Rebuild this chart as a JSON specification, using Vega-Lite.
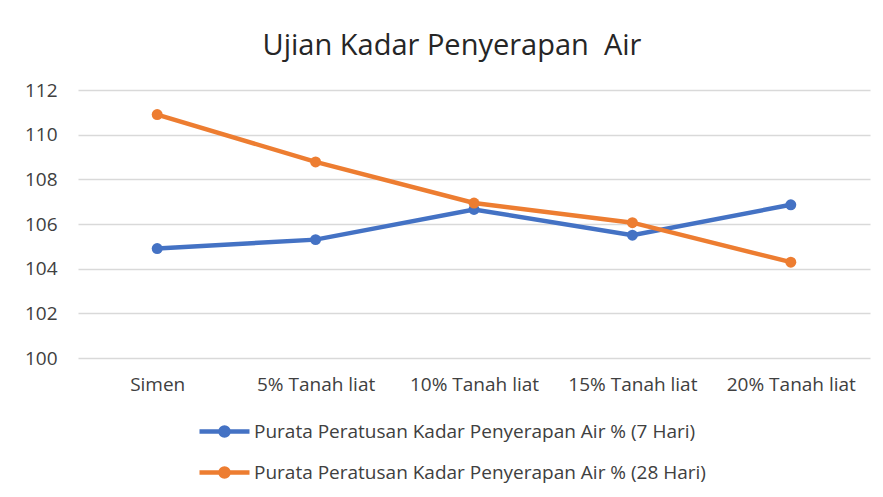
{
  "$schema": "https://vega.github.io/schema/vega-lite/v6.json",
  "width": 792,
  "height": 268,
  "autosize": {"type": "none"},
  "padding": {"left": 78, "top": 90, "right": 13, "bottom": 139},
  "background": "white",
  "config": {"view": {"stroke": null}, "font": "Open Sans"},
  "title": {
    "text": "Ujian Kadar Penyerapan\u00a0 Air",
    "fontSize": 29,
    "fontWeight": "normal",
    "color": "#262626",
    "anchor": "middle",
    "dx": -22,
    "offset": 20
  },
  "data": {
    "values": [
      {"cat": "Simen", "series": "Purata Peratusan Kadar Penyerapan Air % (7 Hari)", "v": 104.9},
      {"cat": "5% Tanah liat", "series": "Purata Peratusan Kadar Penyerapan Air % (7 Hari)", "v": 105.3},
      {"cat": "10% Tanah liat", "series": "Purata Peratusan Kadar Penyerapan Air % (7 Hari)", "v": 106.65},
      {"cat": "15% Tanah liat", "series": "Purata Peratusan Kadar Penyerapan Air % (7 Hari)", "v": 105.5},
      {"cat": "20% Tanah liat", "series": "Purata Peratusan Kadar Penyerapan Air % (7 Hari)", "v": 106.86},
      {"cat": "Simen", "series": "Purata Peratusan Kadar Penyerapan Air % (28 Hari)", "v": 110.9},
      {"cat": "5% Tanah liat", "series": "Purata Peratusan Kadar Penyerapan Air % (28 Hari)", "v": 108.78},
      {"cat": "10% Tanah liat", "series": "Purata Peratusan Kadar Penyerapan Air % (28 Hari)", "v": 106.94},
      {"cat": "15% Tanah liat", "series": "Purata Peratusan Kadar Penyerapan Air % (28 Hari)", "v": 106.06},
      {"cat": "20% Tanah liat", "series": "Purata Peratusan Kadar Penyerapan Air % (28 Hari)", "v": 104.29}
    ]
  },
  "encoding": {
    "x": {
      "field": "cat",
      "type": "ordinal",
      "sort": null,
      "scale": {"type": "point", "padding": 0.5},
      "axis": {
        "title": null,
        "labelAngle": 0,
        "domain": false,
        "ticks": false,
        "grid": false,
        "labelFontSize": 19,
        "labelColor": "#404040",
        "labelPadding": 17
      }
    },
    "y": {
      "field": "v",
      "type": "quantitative",
      "scale": {"domain": [100, 112], "nice": false, "zero": false},
      "axis": {
        "title": null,
        "values": [100, 102, 104, 106, 108, 110, 112],
        "domain": false,
        "ticks": false,
        "gridColor": "#d9d9d9",
        "gridWidth": 1.3,
        "labelFontSize": 19,
        "labelColor": "#404040",
        "labelPadding": 21
      }
    },
    "color": {
      "field": "series",
      "type": "nominal",
      "sort": null,
      "scale": {"range": ["#4472C4", "#ED7D31"]},
      "legend": {
        "title": null,
        "orient": "none",
        "legendX": 119,
        "legendY": 314,
        "direction": "vertical",
        "labelFontSize": 19,
        "labelColor": "#404040",
        "labelLimit": 800,
        "labelOffset": 2,
        "symbolType": "M-1,0H1M-0.16,0A0.16,0.16 0 1,1 0.16,0A0.16,0.16 0 1,1 -0.16,0Z",
        "symbolSize": 2500,
        "symbolStrokeWidth": 4.5,
        "rowPadding": -29,
        "encode": {
          "symbols": {"update": {"fill": {"scale": "color", "field": "value"}, "fillOpacity": {"value": 1}}}
        }
      }
    }
  },
  "layer": [
    {"mark": {"type": "line", "strokeWidth": 4.5}},
    {"mark": {"type": "point", "filled": true, "size": 120, "opacity": 1}}
  ]
}
